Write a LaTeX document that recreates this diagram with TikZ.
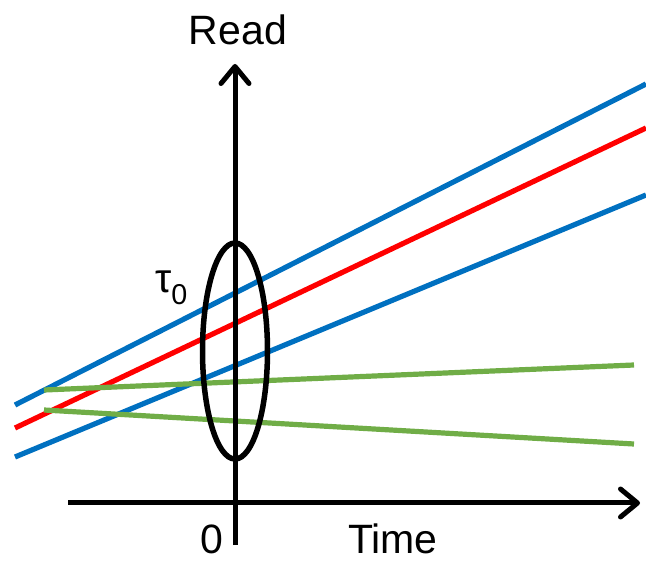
\documentclass[tikz,border=0pt]{standalone}
\usepackage{fontspec}
\setmainfont{Liberation Sans}
\usetikzlibrary{arrows.meta,shapes.geometric}
\definecolor{lblue}{HTML}{0070C0}
\definecolor{lred}{HTML}{FF0000}
\definecolor{lgreen}{HTML}{70AD47}
\begin{document}
\begin{tikzpicture}[x=1pt,y=-1pt,
  axis/.style={line width=5pt,-{Straight Barb[length=17pt,width=28pt,round]}},
  trend/.style={line width=5.2pt},
  lbl/.style={font=\fontsize{41}{49}\selectfont,inner sep=0pt,anchor=base}]
\useasboundingbox (0,0) rectangle (646,561);
% axes
\coordinate (ybot) at (235,545);
\coordinate (ytop) at (235,64);
\coordinate (xleft) at (68,503);
\coordinate (xright) at (640,503);
% trend lines
\coordinate (b1s) at (15,405); \coordinate (b1e) at (646,84);
\coordinate (rs) at (15,428);  \coordinate (re) at (646,128);
\coordinate (b2s) at (15,457); \coordinate (b2e) at (646,195);
\coordinate (g1s) at (44,390); \coordinate (g1e) at (634,365);
\coordinate (g2s) at (44,410); \coordinate (g2e) at (634,444);
\draw[trend,lblue] (b1s) -- (b1e);
\draw[trend,lred] (rs) -- (re);
\draw[trend,lblue] (b2s) -- (b2e);
\draw[trend,lgreen] (g1s) -- (g1e);
\draw[trend,lgreen] (g2s) -- (g2e);
\draw[axis] (ybot) -- (ytop);
\draw[axis] (xleft) -- (xright);
\node[draw,line width=5.5pt,ellipse,inner sep=0pt,
  minimum width=65pt,minimum height=216pt] (ell) at (235,351) {};
% labels
\node[lbl] (read) at (238,45) {Read};
\node[lbl,text depth=0pt] (time) at (393,554) {Time};
\node[lbl,text depth=0pt] (zero) at (212,554) {0};
\node[lbl,anchor=base west] (tau) at (155,293) {τ\textsubscript{0}};
\end{tikzpicture}
\end{document}
